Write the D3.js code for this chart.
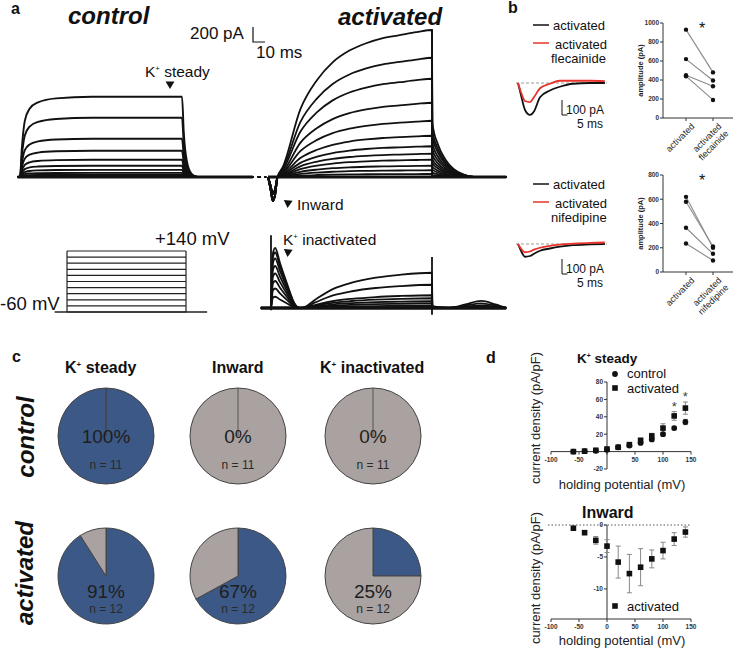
<!DOCTYPE html>
<html>
<head>
<meta charset="utf-8">
<script src="https://cdn.jsdelivr.net/npm/d3@7"></script>
<style>
body { margin: 0; background: #fff; }
svg { display: block; font-family: "Liberation Sans", Arial, sans-serif; }
</style>
</head>
<body>
<div id="fig"></div>
<script>
// ---- panel a : current traces (t in ms, current in pA) ----
// steady amplitude of each control trace, steps -60 .. +140 mV
var controlSteady = [1070, 790, 510, 350, 230, 150, 95, 55, 30, 15, 0];
// time course of the control traces (fraction of steady)
var controlTime  = [-2, 0, 1.5, 4, 8, 15, 30, 60, 135, 136.5, 139, 143, 148, 194];
var controlShape = [0, 0, 0.35, 0.7, 0.85, 0.93, 0.98, 1, 1, 0.55, 0.2, 0.04, 0, 0];

// activated cells: amplitude at end of step and start of tail
var activatedSteady = [1960, 1590, 1310, 990, 750, 550, 410, 310, 230, 150, 90, 40];
var activatedTail   = [720, 620, 540, 450, 370, 300, 240, 190, 140, 100, 60, 30];
var actTime  = [8, 12.5, 27, 41, 54, 68, 82, 96, 110, 124, 137];
var actShape = [0, 0.07, 0.46, 0.66, 0.78, 0.86, 0.91, 0.945, 0.965, 0.985, 1];
var tailTime  = [137.3, 142, 148, 155, 163, 172, 199];
var tailShape = [1, 0.6, 0.33, 0.15, 0.05, 0, 0];
// early inward current
var inwardTime = [0, 2, 4, 6, 8];
var inwardI    = [0, -150, -320, -230, 0];

// K+ inactivated traces
var inactPeak      = [800, 740, 660, 560, 460, 360, 260, 150];
var inactSustained = [470, 310, 170, 130, 90, 60, 30, 10];
var inactTime  = [-6, 2.5, 4, 6, 10, 16, 22, 26, 30, 40, 55, 70, 90, 110, 137, 137.3, 150, 165, 178, 190, 199];
var transShape = [0, 0, 0.9, 1, 0.75, 0.4, 0.08, 0, 0, 0, 0, 0, 0, 0, 0, 0, 0, 0, 0, 0, 0];
var sustShape  = [0, 0, 0, 0, 0, 0, 0, 0, 0.02, 0.25, 0.55, 0.72, 0.86, 0.94, 1, 0.05, 0, 0.1, 0.2, 0.1, 0];
var inactSpikeT = [2.5, 137];
var inactSpikeTop = [970, 680];
var inactSpikeBottom = [-30, -90];

// voltage protocol
var stepVoltages = [-60, -40, -20, 0, 20, 40, 60, 80, 100, 120, 140];
var protocolEdges = [-14, 0, 135, 159];

// ---- panel b ----
var bTime = [0, 2.7, 6.4, 10.9, 14.5, 20, 29, 38, 50, 65.5, 79];
var flecBlack = [0, -80, -180, -213, -190, -95, -50, -25, -5, 0, 0];
var flecRed   = [0, -60, -120, -127, -95, -35, -5, 15, 15, 15, 12];
var nifBlack  = [0, -45, -85, -80, -65, -45, -30, -18, -8, -3, 0];
var nifRed    = [0, -30, -55, -50, -38, -25, -12, -4, 2, 8, 10];
var flecActivated = [930, 620, 450, 440];
var flecDrug      = [480, 395, 335, 190];
var nifActivated  = [620, 580, 365, 235];
var nifDrug       = [200, 210, 150, 95];
var flecTicks = [0, 200, 400, 600, 800, 1000];
var nifTicks  = [0, 200, 400, 600, 800];

// ---- panel c ----
var pieColumns   = ["steady", "Inward", "inactivated"];
var controlPct   = [100, 0, 0];
var activatedPct = [91, 67, 25];
var controlN     = [11, 11, 11];
var activatedN   = [12, 12, 12];

// ---- panel d ----
var holdingMV       = [-60, -40, -20, 0, 20, 40, 60, 80, 100, 120, 140];
var steadyControl   = [0, 0.5, 1, 2, 5, 7, 10, 14, 20, 27, 34];
var steadyCtrlErr   = [0.3, 0.3, 0.5, 0.5, 0.8, 1, 1.5, 2, 2, 2, 3];
var steadyActivated = [0, 0.5, 1.5, 3, 5, 8, 13, 18, 27, 41, 50];
var steadyActErr    = [0.5, 0.5, 0.8, 1, 1, 1.5, 2, 3, 5, 5, 7];
var inwardActivated = [-0.5, -1.2, -2.4, -3.3, -5.8, -7.6, -6.6, -5.3, -4.0, -2.2, -1.1];
var inwardErr       = [0.2, 0.3, 0.6, 1.0, 2.5, 3.0, 2.9, 1.4, 1.3, 1.0, 0.8];
var mvTicks = [-100, -50, 0, 50, 100, 150];

var BLUE = "#3c5886", GREY = "#a9a2a0", RED = "#e8332b";

var svg = d3.select('#fig').append('svg').attr('width', 734).attr('height', 649);

function txt(g, x, y, s, size, opts) {
    opts = opts || {};
    return g.append('text').attr('x', x).attr('y', y).text(s)
        .attr('font-size', size)
        .attr('font-weight', opts.weight || 'normal')
        .attr('font-style', opts.style || 'normal')
        .attr('text-anchor', opts.anchor || 'start')
        .attr('fill', opts.fill || '#111');
}
// "K+ ..." with small superscript plus
function kText(g, x, y, rest, size, weight, anchor) {
    var t = g.append('text').attr('x', x).attr('y', y).attr('font-size', size)
        .attr('font-weight', weight || 'normal').attr('text-anchor', anchor || 'start').attr('fill', '#111');
    t.append('tspan').text('K');
    t.append('tspan').attr('font-size', size * 0.5).attr('dy', -size * 0.4).text('+');
    t.append('tspan').attr('dy', size * 0.4).text(' ' + rest);
    return t;
}
function tri(g, x, y, rot) {
    g.append('path').attr('d', d3.symbol(d3.symbolTriangle, 34)())
        .attr('transform', 'translate(' + x + ',' + y + ') rotate(' + rot + ')').attr('fill', '#111');
}

// panel letters
txt(svg, 11, 14, 'a', 16, {weight: 'bold'});
txt(svg, 508, 13, 'b', 16, {weight: 'bold'});
txt(svg, 12, 362, 'c', 16, {weight: 'bold'});
txt(svg, 486, 363, 'd', 16, {weight: 'bold'});

// ================= panel a =================
var a = svg.append('g');
txt(a, 68, 24, 'control', 24, {weight: 'bold', style: 'italic'});
txt(a, 338, 25, 'activated', 24, {weight: 'bold', style: 'italic'});

var xC = d3.scaleLinear().domain([0, 135]).range([20, 182]);
var yC = d3.scaleLinear().domain([0, 1000]).range([177, 102]);
var xA = d3.scaleLinear().domain([0, 137]).range([268, 432]);
var yA = d3.scaleLinear().domain([0, 1000]).range([177, 102]);
var yI = d3.scaleLinear().domain([0, 1000]).range([308, 233]);

// scale bar 200 pA / 10 ms
var sbx = 253, sby = 42;
a.append('path').attr('fill', 'none').attr('stroke', '#111').attr('stroke-width', 1.2)
    .attr('d', 'M' + sbx + ',' + (sby - (yC(0) - yC(200))) + 'V' + sby + 'H' + (sbx + xC(10) - xC(0)));
txt(a, 190, 39, '200 pA', 17);
txt(a, 256, 58, '10 ms', 17);

function traceLine(xs, ys) {
    return d3.line().x(function(d) { return xs(d[0]); }).y(function(d) { return ys(d[1]); })
        .curve(d3.curveMonotoneX);
}
var lc = traceLine(xC, yC), la = traceLine(xA, yA), li = traceLine(xA, yI);

// control traces
controlSteady.forEach(function(A) {
    var pts = controlTime.map(function(t, i) { return [t, controlShape[i] * A]; });
    a.append('path').attr('d', lc(pts)).attr('fill', 'none').attr('stroke', '#111').attr('stroke-width', 1.9);
});
a.append('line').attr('x1', xC(-2)).attr('x2', xC(194)).attr('y1', yC(0)).attr('y2', yC(0))
    .attr('stroke', '#111').attr('stroke-width', 2.8);
kText(a, 145, 77, 'steady', 15.5);
tri(a, 170, 84, 180);

// activated traces
a.append('line').attr('x1', xA(-15)).attr('x2', xA(-1)).attr('y1', yA(0)).attr('y2', yA(0))
    .attr('stroke', '#111').attr('stroke-width', 2.2).attr('stroke-dasharray', '4,3');
activatedSteady.forEach(function(A, k) {
    var pts = inwardTime.map(function(t, i) { return [t, inwardI[i] * (k < 6 ? 1 : 0.7)]; });
    actTime.slice(1).forEach(function(t, i) { pts.push([t, actShape[i + 1] * A]); });
    tailTime.forEach(function(t, i) { pts.push([t, tailShape[i] * activatedTail[k]]); });
    a.append('path').attr('d', la(pts)).attr('fill', 'none').attr('stroke', '#111').attr('stroke-width', 1.8);
});
a.append('line').attr('x1', xA(137)).attr('x2', xA(137)).attr('y1', yA(0)).attr('y2', yA(d3.max(activatedSteady)))
    .attr('stroke', '#111').attr('stroke-width', 1.8);
a.append('line').attr('x1', xA(0)).attr('x2', xA(199)).attr('y1', yA(0)).attr('y2', yA(0))
    .attr('stroke', '#111').attr('stroke-width', 2.8);
tri(a, 288, 203, -55);
txt(a, 297, 210, 'Inward', 15.5);

// K+ inactivated traces
inactPeak.forEach(function(P, k) {
    var pts = inactTime.map(function(t, i) { return [t, transShape[i] * P + sustShape[i] * inactSustained[k]]; });
    a.append('path').attr('d', li(pts)).attr('fill', 'none').attr('stroke', '#111').attr('stroke-width', 1.8);
});
inactSpikeT.forEach(function(t, i) {
    a.append('line').attr('x1', xA(t)).attr('x2', xA(t)).attr('y1', yI(inactSpikeBottom[i])).attr('y2', yI(inactSpikeTop[i]))
        .attr('stroke', '#111').attr('stroke-width', 1.8);
});
a.append('line').attr('x1', xA(-6)).attr('x2', xA(199)).attr('y1', yI(0)).attr('y2', yI(0))
    .attr('stroke', '#111').attr('stroke-width', 3.4);
kText(a, 283, 245, 'inactivated', 15.5);
tri(a, 288, 252, -55);

// voltage protocol
var xP = d3.scaleLinear().domain([0, 135]).range([67, 186]);
var yP = d3.scaleLinear().domain([-60, 140]).range([312, 251]);
stepVoltages.forEach(function(v) {
    a.append('line').attr('x1', xP(protocolEdges[1])).attr('x2', xP(protocolEdges[2]))
        .attr('y1', yP(v)).attr('y2', yP(v)).attr('stroke', '#222').attr('stroke-width', 1.2);
});
[protocolEdges[1], protocolEdges[2]].forEach(function(t) {
    a.append('line').attr('x1', xP(t)).attr('x2', xP(t)).attr('y1', yP(-60)).attr('y2', yP(140))
        .attr('stroke', '#222').attr('stroke-width', 1.2);
});
a.append('line').attr('x1', xP(protocolEdges[0])).attr('x2', xP(protocolEdges[3]))
    .attr('y1', yP(-60)).attr('y2', yP(-60)).attr('stroke', '#222').attr('stroke-width', 1.5);
txt(a, 155, 245, '+140 mV', 18.5);
txt(a, 0, 310, '-60 mV', 18.5);

// ================= panel b =================
var b = svg.append('g');
function bPanel(y0, legendY, drugName, blackI, redI) {
    var xB = d3.scaleLinear().domain([0, 80]).range([518, 606]);
    var yB = d3.scaleLinear().domain([0, -100]).range([y0, y0 + 15]);
    b.append('line').attr('x1', 533).attr('x2', 549).attr('y1', legendY - 5).attr('y2', legendY - 5)
        .attr('stroke', '#111').attr('stroke-width', 1.5);
    txt(b, 553, legendY, 'activated', 13);
    b.append('line').attr('x1', 533).attr('x2', 549).attr('y1', legendY + 13).attr('y2', legendY + 13)
        .attr('stroke', RED).attr('stroke-width', 1.5);
    txt(b, 555, legendY + 19, 'activated', 13);
    txt(b, 551, legendY + 33, drugName, 13);
    b.append('line').attr('x1', 516).attr('x2', 607).attr('y1', yB(0)).attr('y2', yB(0))
        .attr('stroke', '#999').attr('stroke-width', 1).attr('stroke-dasharray', '3,2');
    var lb = d3.line().x(function(d) { return xB(d[0]); }).y(function(d) { return yB(d[1]); }).curve(d3.curveMonotoneX);
    b.append('path').attr('d', lb(bTime.map(function(t, i) { return [t, blackI[i]]; })))
        .attr('fill', 'none').attr('stroke', '#111').attr('stroke-width', 1.8);
    b.append('path').attr('d', lb(bTime.map(function(t, i) { return [t, redI[i]]; })))
        .attr('fill', 'none').attr('stroke', RED).attr('stroke-width', 1.8);
    // scale bar 100 pA / 5 ms
    var sy = legendY + 85;
    b.append('path').attr('fill', 'none').attr('stroke', '#111').attr('stroke-width', 1)
        .attr('d', 'M562,' + (sy - (yB(-100) - yB(0))) + 'V' + sy + 'H' + (562 + xB(5) - xB(0)));
    txt(b, 566, sy - 1, '100 pA', 12);
    txt(b, 577, sy + 13, '5 ms', 12);
}
bPanel(83, 30, 'flecainide', flecBlack, flecRed);
bPanel(244, 189, 'nifedipine', nifBlack, nifRed);

function pairPlot(yTop, yBot, maxV, ticks, act, drug, drugName) {
    var cats = [686, 713];
    var y = d3.scaleLinear().domain([0, maxV]).range([yBot, yTop]);
    var g = b.append('g');
    g.append('line').attr('x1', 663).attr('x2', 663).attr('y1', yTop).attr('y2', yBot).attr('stroke', '#333');
    g.append('line').attr('x1', 663).attr('x2', 733).attr('y1', yBot).attr('y2', yBot).attr('stroke', '#333');
    ticks.forEach(function(t) {
        g.append('line').attr('x1', 660).attr('x2', 663).attr('y1', y(t)).attr('y2', y(t)).attr('stroke', '#333');
        txt(g, 659, y(t) + 2.3, t, 6.5, {weight: 'bold', anchor: 'end', fill: '#333'});
    });
    cats.forEach(function(c) {
        g.append('line').attr('x1', c).attr('x2', c).attr('y1', yBot).attr('y2', yBot + 3).attr('stroke', '#333');
    });
    act.forEach(function(v, i) {
        g.append('line').attr('x1', cats[0]).attr('x2', cats[1]).attr('y1', y(v)).attr('y2', y(drug[i]))
            .attr('stroke', '#8a8a8a').attr('stroke-width', 1.1);
    });
    act.concat(drug).forEach(function(v, i) {
        g.append('circle').attr('cx', cats[i < act.length ? 0 : 1]).attr('cy', y(v)).attr('r', 2.2).attr('fill', '#111');
    });
    txt(g, 702, yTop + 11, '*', 16, {anchor: 'middle'});
    g.append('text').attr('transform', 'translate(643,' + ((yTop + yBot) / 2) + ') rotate(-90)')
        .attr('text-anchor', 'middle').attr('font-size', 7.5).attr('font-weight', 'bold').attr('fill', '#222')
        .text('amplitude (pA)');
    g.append('text').attr('transform', 'translate(' + (cats[0] + 9) + ',' + (yBot + 9) + ') rotate(-45)')
        .attr('text-anchor', 'end').attr('font-size', 9).attr('fill', '#222').text('activated');
    var t2 = g.append('text').attr('transform', 'translate(' + (cats[1] + 9) + ',' + (yBot + 9) + ') rotate(-45)')
        .attr('text-anchor', 'end').attr('font-size', 9).attr('fill', '#222');
    t2.append('tspan').attr('x', 0).attr('dy', 0).text('activated');
    t2.append('tspan').attr('x', 0).attr('dy', 10).text(drugName);
}
pairPlot(23, 118, 1000, flecTicks, flecActivated, flecDrug, 'flecainide');
pairPlot(175, 272, 800, nifTicks, nifActivated, nifDrug, 'nifedipine');

// ================= panel c =================
var c = svg.append('g');
var pieX = [106, 238, 373];
kText(c, 65, 373, 'steady', 16, 'bold');
txt(c, 212, 373, 'Inward', 16, {weight: 'bold'});
kText(c, 320, 373, 'inactivated', 16, 'bold');
c.append('text').attr('transform', 'translate(34,437) rotate(-90)').attr('text-anchor', 'middle')
    .attr('font-size', 24).attr('font-weight', 'bold').attr('font-style', 'italic').attr('fill', '#111').text('control');
c.append('text').attr('transform', 'translate(33,573) rotate(-90)').attr('text-anchor', 'middle')
    .attr('font-size', 24).attr('font-weight', 'bold').attr('font-style', 'italic').attr('fill', '#111').text('activated');

var pie = d3.pie().sort(null);
var arc = d3.arc().innerRadius(0).outerRadius(48);
function pieRow(cy, pcts, ns, pctY, nY) {
    pcts.forEach(function(p, i) {
        var g = c.append('g').attr('transform', 'translate(' + pieX[i] + ',' + cy + ')');
        g.selectAll('path').data(pie([p, 100 - p])).enter().append('path')
            .attr('d', arc).attr('fill', function(d, j) { return j === 0 ? BLUE : GREY; })
            .attr('stroke', '#444').attr('stroke-width', 1);
        if (p === 0) g.append('line').attr('x1', 0).attr('x2', 0).attr('y1', 0).attr('y2', -48).attr('stroke', '#555');
        txt(g, 0, pctY, p + '%', 19, {anchor: 'middle', fill: '#1e1e1e'});
        txt(g, 0, nY, 'n = ' + ns[i], 12, {anchor: 'middle', fill: '#2a2a2a'});
    });
}
pieRow(436, controlPct, controlN, 7, 33);
pieRow(576, activatedPct, activatedN, 22, 37);

// ================= panel d =================
var d = svg.append('g');
var xD = d3.scaleLinear().domain([-100, 150]).range([551, 691]);

function errBars(g, x, y, vals, errs, col) {
    vals.forEach(function(v, i) {
        var X = x(holdingMV[i]);
        g.append('line').attr('x1', X).attr('x2', X).attr('y1', y(v - errs[i])).attr('y2', y(v + errs[i]))
            .attr('stroke', col).attr('stroke-width', 1);
        [v - errs[i], v + errs[i]].forEach(function(e) {
            g.append('line').attr('x1', X - 2.5).attr('x2', X + 2.5).attr('y1', y(e)).attr('y2', y(e))
                .attr('stroke', col).attr('stroke-width', 1);
        });
    });
}
function squares(g, x, y, vals) {
    vals.forEach(function(v, i) {
        g.append('rect').attr('x', x(holdingMV[i]) - 2.8).attr('y', y(v) - 2.8).attr('width', 5.6).attr('height', 5.6)
            .attr('fill', '#111');
    });
}

// top: K+ steady
var yD1 = d3.scaleLinear().domain([-20, 80]).range([469, 382]);
var g1 = d.append('g');
kText(g1, 577, 363, 'steady', 13.5, 'bold');
g1.append('line').attr('x1', xD(0)).attr('x2', xD(0)).attr('y1', yD1(-20)).attr('y2', yD1(80)).attr('stroke', '#333');
g1.append('line').attr('x1', xD(-100)).attr('x2', xD(150)).attr('y1', yD1(0)).attr('y2', yD1(0)).attr('stroke', '#333');
mvTicks.forEach(function(t) {
    g1.append('line').attr('x1', xD(t)).attr('x2', xD(t)).attr('y1', yD1(0)).attr('y2', yD1(0) + 3).attr('stroke', '#333');
    if (t !== 0) txt(g1, xD(t), yD1(0) + 10, t, 6.5, {weight: 'bold', anchor: 'middle', fill: '#333'});
});
[-20, 0, 20, 40, 60, 80].forEach(function(t) {
    g1.append('line').attr('x1', xD(0) - 3).attr('x2', xD(0)).attr('y1', yD1(t)).attr('y2', yD1(t)).attr('stroke', '#333');
    if (t !== 0) txt(g1, xD(0) - 4, yD1(t) + 2.3, t, 6.5, {weight: 'bold', anchor: 'end', fill: '#333'});
});
errBars(g1, xD, yD1, steadyControl, steadyCtrlErr, '#888');
errBars(g1, xD, yD1, steadyActivated, steadyActErr, '#888');
steadyControl.forEach(function(v, i) {
    g1.append('circle').attr('cx', xD(holdingMV[i])).attr('cy', yD1(v)).attr('r', 2.9).attr('fill', '#111');
});
squares(g1, xD, yD1, steadyActivated);
[9, 10].forEach(function(i) {
    txt(g1, xD(holdingMV[i]), yD1(steadyActivated[i] + steadyActErr[i]) - 1, '*', 13, {anchor: 'middle', fill: '#444'});
});
g1.append('circle').attr('cx', 615).attr('cy', 374).attr('r', 2.9).attr('fill', '#111');
txt(g1, 627, 378, 'control', 13);
g1.append('rect').attr('x', 612.2).attr('y', 385.2).attr('width', 5.6).attr('height', 5.6).attr('fill', '#111');
txt(g1, 627, 393, 'activated', 13);
g1.append('text').attr('transform', 'translate(540,418) rotate(-90)').attr('text-anchor', 'middle')
    .attr('font-size', 13).attr('fill', '#222').text('current density (pA/pF)');
txt(g1, 622, 489, 'holding potential (mV)', 13, {anchor: 'middle', fill: '#222'});

// bottom: Inward
var yD2 = d3.scaleLinear().domain([-14.7, 0]).range([619, 525]);
var g2 = d.append('g');
txt(g2, 582, 518, 'Inward', 16, {weight: 'bold'});
g2.append('line').attr('x1', 548).attr('x2', 690).attr('y1', yD2(0)).attr('y2', yD2(0))
    .attr('stroke', '#555').attr('stroke-dasharray', '1.5,2');
g2.append('line').attr('x1', xD(0)).attr('x2', xD(0)).attr('y1', yD2(0)).attr('y2', yD2(-14.7)).attr('stroke', '#333');
g2.append('line').attr('x1', xD(-100)).attr('x2', xD(150)).attr('y1', yD2(-14.7)).attr('y2', yD2(-14.7)).attr('stroke', '#333');
mvTicks.forEach(function(t) {
    g2.append('line').attr('x1', xD(t)).attr('x2', xD(t)).attr('y1', yD2(-14.7)).attr('y2', yD2(-14.7) + 3).attr('stroke', '#333');
    txt(g2, xD(t), yD2(-14.7) + 10, t, 6.5, {weight: 'bold', anchor: 'middle', fill: '#333'});
});
[0, -5, -10].forEach(function(t) {
    g2.append('line').attr('x1', xD(0) - 3).attr('x2', xD(0)).attr('y1', yD2(t)).attr('y2', yD2(t)).attr('stroke', '#333');
    txt(g2, xD(0) - 4, yD2(t) + 2.3, t, 6.5, {weight: 'bold', anchor: 'end', fill: '#333'});
});
errBars(g2, xD, yD2, inwardActivated, inwardErr, '#888');
squares(g2, xD, yD2, inwardActivated);
g2.append('rect').attr('x', 612.2).attr('y', 603.2).attr('width', 5.6).attr('height', 5.6).attr('fill', '#111');
txt(g2, 627, 611, 'activated', 13);
g2.append('text').attr('transform', 'translate(540,578) rotate(-90)').attr('text-anchor', 'middle')
    .attr('font-size', 13).attr('fill', '#222').text('current density (pA/pF)');
txt(g2, 622, 645, 'holding potential (mV)', 13, {anchor: 'middle', fill: '#222'});
</script>
</body>
</html>
